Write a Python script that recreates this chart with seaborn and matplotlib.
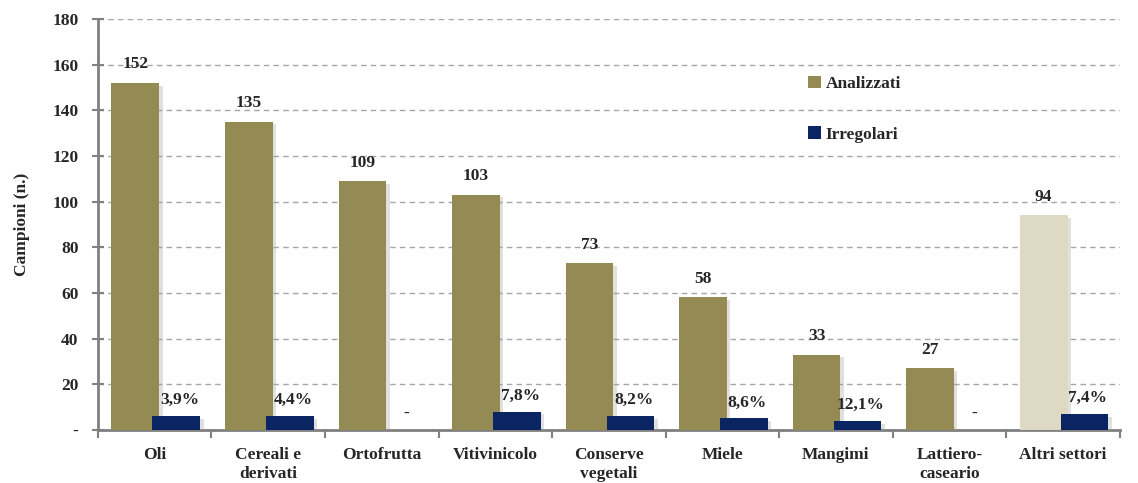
import matplotlib
matplotlib.use("Agg")
import matplotlib.pyplot as plt
import matplotlib.patheffects as pe
import pandas as pd
import seaborn as sns

# dati
settori = ["Oli", "Cereali e\nderivati", "Ortofrutta", "Vitivinicolo", "Conserve\nvegetali",
           "Miele", "Mangimi", "Lattiero-\ncaseario", "Altri settori"]
analizzati = [152, 135, 109, 103, 73, 58, 33, 27, 94]
irregolari = [6, 6, 0, 8, 6, 5, 4, 0, 7]
perc_irregolari = ["3,9%", "4,4%", "-", "7,8%", "8,2%", "8,6%", "12,1%", "-", "7,4%"]
yticks = [0, 20, 40, 60, 80, 100, 120, 140, 160, 180]
ytick_labels = ["-", "20", "40", "60", "80", "100", "120", "140", "160", "180"]

df = pd.DataFrame({
    "Settore": settori * 2,
    "Campioni": analizzati + irregolari,
    "Serie": ["Analizzati"] * len(settori) + ["Irregolari"] * len(settori),
})

sns.set_style("white")
plt.rcParams["font.family"] = ["Liberation Serif", "DejaVu Serif"]
plt.rcParams["font.weight"] = "bold"

oliva = "#948A54"
blu = "#0B2462"
beige = "#DDD9C3"
fs = 12.5

fig = plt.figure(figsize=(11.38, 4.83), dpi=100)
ax = fig.add_axes([0.086, 0.110, 0.898, 0.851])

sns.barplot(data=df, x="Settore", y="Campioni", hue="Serie", order=settori,
            palette={"Analizzati": oliva, "Irregolari": blu}, width=0.84,
            saturation=1, linewidth=0, ax=ax, legend=True)

n = len(settori)
ombra = [pe.SimplePatchShadow(offset=(2.5, -2), shadow_rgbFace="#9a9a9a", alpha=0.3), pe.Normal()]
bars_a = ax.patches[:n]
bars_i = ax.patches[n:2 * n]
for p in bars_a:
    p.set_x(p.get_x() + 0.04)
    p.set_path_effects(ombra)
    p.set_zorder(3)
for p, v in zip(bars_i, irregolari):
    p.set_x(p.get_x() - 0.02)
    p.set_zorder(4)
    if v > 0:
        p.set_path_effects(ombra)
    else:
        p.set_visible(False)
bars_a[-1].set_facecolor(beige)

for p, v in zip(bars_a, analizzati):
    ax.text(p.get_x() + p.get_width() / 2, v + 4.5, str(v), ha="center", va="bottom",
            fontsize=fs, fontweight="bold")
for p, v, t in zip(bars_i, irregolari, perc_irregolari):
    ax.text(p.get_x() + p.get_width() / 2 + 0.03, v + 3.5, t, ha="center", va="bottom",
            fontsize=fs, fontweight="bold")

ax.set_ylim(0, 180)
ax.set_xlim(-0.5, n - 0.5)
ax.set_yticks(yticks)
ax.set_yticklabels(ytick_labels, fontsize=fs, fontweight="bold")
ax.yaxis.grid(True, linestyle=(0, (4, 3)), color="#A6A6A6", linewidth=1)
ax.set_axisbelow(True)
ax.tick_params(axis="y", left=True, direction="inout", length=8, color="#808080", width=1.5, pad=10)

ax.set_xticks(range(n))
ax.set_xticklabels(settori, fontsize=fs, fontweight="bold", linespacing=1.3)
ax.tick_params(axis="x", which="major", bottom=False, length=0, pad=12)
ax.set_xticks([i - 0.5 for i in range(n + 1)], minor=True)
ax.tick_params(axis="x", which="minor", bottom=True, direction="out", length=6,
               color="#808080", width=1.5)

ax.set_xlabel("")
ax.set_ylabel("Campioni (n.)", fontsize=12.5, fontweight="bold", labelpad=16)

for s in ["top", "right"]:
    ax.spines[s].set_visible(False)
for s in ["left", "bottom"]:
    ax.spines[s].set_color("#808080")
    ax.spines[s].set_linewidth(2)

ax.legend(loc="upper left", bbox_to_anchor=(0.68, 0.90), frameon=False,
          handlelength=0.7, handleheight=0.7, handletextpad=0.3, labelspacing=2.0,
          prop={"size": fs, "weight": "bold"})

fig.savefig("out.png", dpi=100)
